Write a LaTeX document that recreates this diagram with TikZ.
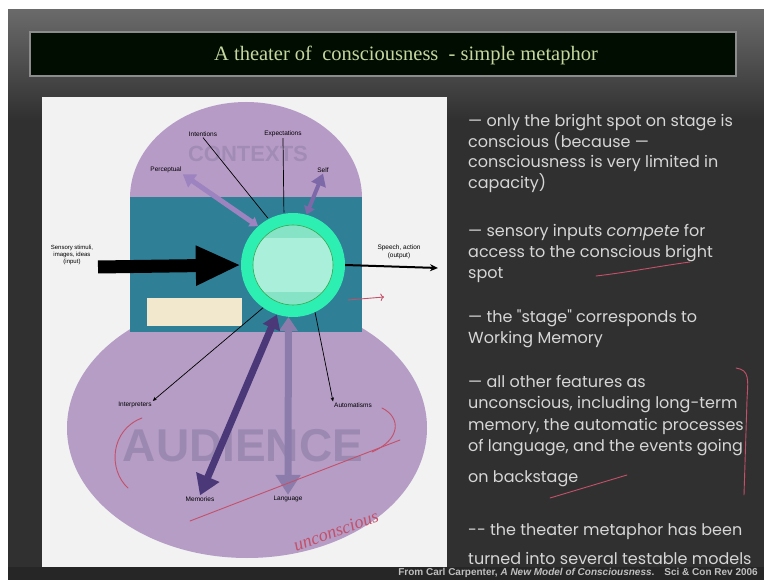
\documentclass[tikz,border=0pt]{standalone}
\usepackage{fontspec}
\setmainfont{Liberation Serif}
\newfontfamily\slidefont{Poppins}
\newfontfamily\labelfont{Liberation Sans}
\usetikzlibrary{positioning}
\usetikzlibrary{arrows.meta}
\definecolor{slidebg}{HTML}{303030}
\definecolor{titletext}{HTML}{C6D69E}
\definecolor{slidetext}{HTML}{D6D6D6}
\definecolor{domepurple}{HTML}{B79BC7}
\definecolor{audpurple}{HTML}{B59DC5}
\definecolor{stageteal}{HTML}{2F7F97}
\definecolor{spotgreen}{HTML}{2EEFB2}
\definecolor{spotmint}{HTML}{86E3C6}
\definecolor{spotband}{HTML}{A9EFD9}
\definecolor{bigword}{HTML}{9C89B2}
\definecolor{darkarrow}{HTML}{4B3878}
\definecolor{lightarrow}{HTML}{8C7CAB}
\definecolor{percarrow}{HTML}{9D83BF}
\definecolor{selfarrow}{HTML}{7E69A8}
\definecolor{inkred}{HTML}{C4506A}
\definecolor{cream}{HTML}{F1E8CE}
\tikzset{%
  mylabel/.style={font=\labelfont\fontsize{6.5}{7.5}\selectfont, text=black, inner sep=1pt, align=center},
  myline/.style={line width=0.7pt, shorten >=1pt},
  myedge/.style={-{Stealth[length=4pt, width=3.5pt]}, line width=0.7pt},
  myfat/.style={{Triangle[length=14pt, width=18pt]}-{Triangle[length=20pt, width=24pt]}, line width=7pt},
  mythick/.style={{Triangle[length=8pt, width=11pt]}-{Triangle[length=12pt, width=15pt]}, line width=5pt},
  mybullet/.style={font=\slidefont\fontsize{16}{20.7}\selectfont, text=slidetext, anchor=base west, inner sep=0pt},
  myink/.style={draw=inkred, line width=0.9pt, line cap=round}
}

\begin{document}
\begin{tikzpicture}[x=1pt, y=-1pt]
  % slide background
  \fill[white] (0,0) rectangle (764,580);
  \shade[top color=slidebg!60!white!70!slidebg, bottom color=slidebg] (8,10) rectangle (764,120);
  \fill[slidebg] (8,120) rectangle (764,580);
  \fill[black!85] (8,567) rectangle (764,580);

  % title bar
  \draw[fill=black!95!green, draw=black!45, line width=1.5pt] (30,32) rectangle (736,76);
  \node[font=\fontsize{20.5}{22}\selectfont, text=titletext] (title) at (406,55) {A theater of\enspace consciousness\enspace - simple metaphor};

  % diagram panel
  \fill[black!5] (42,97) rectangle (447,567);

  % contexts, audience, stage
  \fill[domepurple] (130,198) arc[start angle=180, end angle=360, x radius=116, y radius=96] -- cycle;
  \fill[audpurple] (247,428) ellipse[x radius=180, y radius=130];
  \fill[stageteal] (130,197) rectangle (362,332);
  \fill[cream] (147,298) rectangle (242,326);

  \node[font=\labelfont\bfseries\fontsize{22}{24}\selectfont, text=bigword!85!domepurple] (contexts) at (248,154) {CONTEXTS};
  \node[font=\labelfont\bfseries\fontsize{46}{48}\selectfont, text=bigword] (audience) at (243,446) {AUDIENCE};

  % bright spot
  \node[circle, fill=spotgreen, minimum size=104pt, inner sep=0pt] (spot) at (293,265) {};
  \begin{scope}
    \clip (293,265) circle[radius=40];
    \fill[spotmint] (253,225) rectangle (333,305);
    \fill[spotband] (253,238) rectangle (333,292);
  \end{scope}
  \draw[green!50!black!60!spotmint, line width=0.6pt] (293,265) circle[radius=40];

  % context labels
  \node[mylabel] (intentions) at (203,134) {Intentions};
  \node[mylabel] (expectations) at (283,134) {Expectations};
  \node[mylabel] (perceptual) at (166,170) {Perceptual};
  \node[mylabel] (self) at (323,170) {Self};

  % audience labels
  \node[mylabel] (interpreters) at (135,405) {Interpreters};
  \node[mylabel] (automatisms) at (353,405) {Automatisms};
  \node[mylabel] (memories) at (200,499) {Memories};
  \node[mylabel] (language) at (288,499) {Language};

  % input / output
  \node[mylabel, font=\labelfont\fontsize{6}{7}\selectfont] (input) at (72,255) {Sensory stimuli,\\images, ideas\\(input)};
  \node[mylabel] (output) at (399,252) {Speech, action\\(output)};
  \coordinate (inputstart) at (98,267);
  \coordinate (outputend) at (438,268);

  \draw[black, line width=13pt, -{Triangle[length=45pt, width=37pt]}] (inputstart) -- (spot.west);
  \draw[black, line width=2pt, -{Stealth[length=8pt, width=7pt]}] (spot.east) -- (outputend);

  % spot to contexts
  \draw[myline] (intentions.south) -- (spot.118);
  \draw[myline] (expectations.south) -- (spot.100);
  \draw[mythick, percarrow] (spot.132) -- (perceptual.south east);
  \draw[mythick, selfarrow, line width=4pt] (spot.75) -- (self.south);

  % spot to audience
  \draw[myedge] (spot.235) -- (interpreters.north east);
  \draw[myedge] (spot.295) -- (automatisms.north west);
  \draw[myfat, lightarrow] (spot.265) -- (language.north);
  \draw[myfat, darkarrow] (spot.252) -- (memories.north);

  % bullets
  \node[mybullet] (b1) at (468,127) {\textemdash{} only the bright spot on stage is};
  \node[mybullet] (b1b) at (468,147.5) {conscious (because \textemdash};
  \node[mybullet] (b1c) at (468,168) {consciousness is very limited in};
  \node[mybullet] (b1d) at (468,188.5) {capacity)};
  \node[mybullet] (b2) at (468,237) {\textemdash{} sensory inputs \textit{compete} for};
  \node[mybullet] (b2b) at (468,258) {access to the conscious bright};
  \node[mybullet] (b2c) at (468,279) {spot};
  \node[mybullet] (b3) at (468,323) {\textemdash{} the "stage" corresponds to};
  \node[mybullet] (b3b) at (468,344) {Working Memory};
  \node[mybullet] (b4) at (468,388) {\textemdash{} all other features as};
  \node[mybullet] (b4b) at (468,409) {unconscious, including long-term};
  \node[mybullet] (b4c) at (468,430) {memory, the automatic processes};
  \node[mybullet] (b4d) at (468,451) {of language, and the events going};
  \node[mybullet] (b4e) at (468,482) {on backstage};
  \node[mybullet] (b5) at (468,535) {-- the theater metaphor has been};
  \node[mybullet] (b5b) at (468,564) {turned into several testable models};

  % source
  \node[font=\labelfont\bfseries\fontsize{10}{11}\selectfont, text=black!25, anchor=base east, inner sep=0pt] (source) at (758,575)
    {From Carl Carpenter, \textit{A New Model of Consciousness}.\quad Sci \& Con Rev 2006};

  % red ink
  \draw[myink] (142,418) .. controls (110,430) and (108,470) .. (128,488);
  \draw[myink] (382,408) .. controls (402,418) and (400,440) .. (372,452);
  \draw[myink] (190,521) -- (400,440);
  \node[text=inkred, font=\itshape\fontsize{18}{20}\selectfont, rotate=20] (scribble) at (336,531) {unconscious};
  \draw[myink, ->] (348,300) -- (384,297);
  \draw[myink] (596,276) .. controls (630,272) and (660,266) .. (690,262);
  \draw[myink] (550,498) -- (627,475);
  \draw[myink] (736,368) .. controls (750,370) and (748,380) .. (747,400) -- (744,495);
\end{tikzpicture}
\end{document}
